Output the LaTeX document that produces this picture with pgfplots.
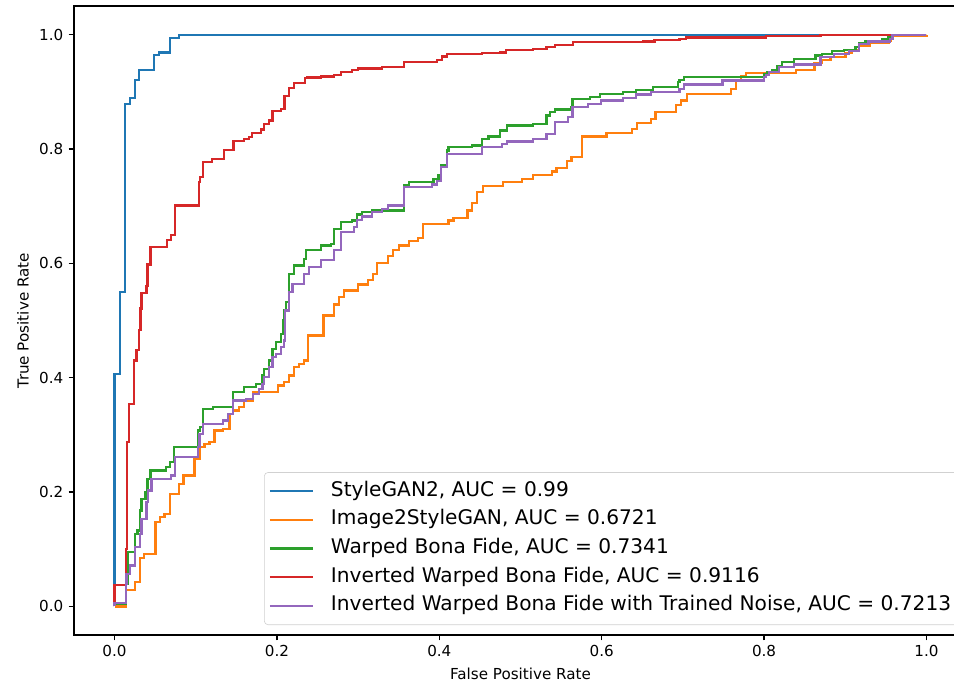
\documentclass[border=0pt]{standalone}
\usepackage{fontspec}
\setmainfont{DejaVu Sans}
\usepackage{pgfplots}
\pgfplotsset{compat=1.18}

\definecolor{tabblue}{HTML}{1F77B4}
\definecolor{taborange}{HTML}{FF7F0E}
\definecolor{tabgreen}{HTML}{2CA02C}
\definecolor{tabred}{HTML}{D62728}
\definecolor{tabpurple}{HTML}{9467BD}

\begin{document}
\begin{tikzpicture}
\begin{axis}[
    scale only axis,
    width=589.4pt, height=415.1pt,
    xmin=-0.05, xmax=1.05, ymin=-0.05, ymax=1.05,
    xtick={0,0.2,0.4,0.6,0.8,1}, ytick={0,0.2,0.4,0.6,0.8,1},
    tick align=outside, major tick length=3.5pt,
    tick style={black, line width=0.8pt},
    axis line style={line width=0.8pt},
    xtick pos=bottom, ytick pos=left,
    /pgf/number format/assume math mode=true,
    xticklabel style={/pgf/number format/.cd, fixed, fixed zerofill, precision=1},
    yticklabel style={/pgf/number format/.cd, fixed, fixed zerofill, precision=1},
    ticklabel style={font=\fontsize{10}{12}\selectfont},
    label style={font=\fontsize{10}{12}\selectfont},
    xlabel={False Positive Rate}, ylabel={True Positive Rate},
    every axis plot/.append style={line width=1.5pt, const plot},
    legend image code/.code={\draw[#1] (0pt,0pt) -- (28.5pt,0pt);},
    legend cell align=left,
    legend style={at={(rel axis cs:1,0)}, anchor=south east, xshift=-5.3pt, yshift=6.6pt,
        draw=black!18, rounded corners=2.5pt, fill=white,
        font=\fontsize{13.3}{16}\selectfont, row sep=0pt,
        inner xsep=3pt, inner ysep=3pt,
        nodes={text height=9.5pt, text depth=3pt, inner ysep=3.2pt},
        /tikz/every odd column/.append style={column sep=9pt}},
]
\addplot[tabblue] coordinates {(0,0) (0,0.407) (0.0065,0.550) (0.0126,0.879) (0.0188,0.889) (0.025,0.921) (0.0303,0.938) (0.049,0.965) (0.055,0.969) (0.068,0.9935) (0.0794,1) (1,1)};
\addlegendentry{StyleGAN2, AUC = 0.99}
\addplot[taborange] coordinates {(0,0) (0.0139,0.0292) (0.0249,0.0425) (0.031,0.0851) (0.0364,0.0921) (0.0503,0.1474) (0.0556,0.1561) (0.0617,0.1621) (0.0679,0.197) (0.0794,0.2145) (0.085,0.229) (0.0985,0.2582) (0.1047,0.2785) (0.1108,0.2844) (0.1169,0.2872) (0.1231,0.3077) (0.1334,0.3107) (0.1415,0.3369) (0.1456,0.3427) (0.1537,0.3484) (0.1599,0.3601) (0.1702,0.3747) (0.2009,0.3864) (0.209,0.3921) (0.2151,0.4038) (0.2212,0.4184) (0.2274,0.4243) (0.2335,0.4301) (0.2384,0.4738) (0.2573,0.5087) (0.2703,0.528) (0.2764,0.5407) (0.2826,0.5524) (0.3002,0.5629) (0.3125,0.5712) (0.3187,0.5816) (0.3236,0.6009) (0.3366,0.6124) (0.3427,0.6236) (0.3501,0.6311) (0.3623,0.6386) (0.3739,0.6439) (0.3795,0.669) (0.4114,0.6748) (0.4175,0.6795) (0.4347,0.6923) (0.4401,0.7051) (0.4463,0.7243) (0.4536,0.7348) (0.4782,0.7418) (0.5022,0.7477) (0.515,0.7547) (0.539,0.7605) (0.5444,0.7663) (0.5574,0.7785) (0.5628,0.7855) (0.5758,0.8217) (0.6058,0.8275) (0.6377,0.8351) (0.6433,0.8449) (0.661,0.8526) (0.6663,0.8642) (0.6917,0.8771) (0.6978,0.8846) (0.7049,0.8963) (0.7591,0.9051) (0.7653,0.9184) (0.7714,0.9266) (0.7776,0.9323) (0.8389,0.9383) (0.8622,0.9498) (0.8715,0.9558) (0.8818,0.9603) (0.9002,0.9673) (0.9083,0.9733) (0.9166,0.9808) (0.9309,0.9855) (0.9534,0.9895) (0.9567,0.9983) (1,1)};
\addlegendentry{Image2StyleGAN, AUC = 0.6721}
\addplot[tabgreen] coordinates {(0,0) (0,0.005) (0.0139,0.04) (0.016,0.095) (0.0249,0.1271) (0.0282,0.1329) (0.031,0.1678) (0.0331,0.1883) (0.038,0.1998) (0.0405,0.2233) (0.0442,0.2378) (0.0638,0.2435) (0.0679,0.2523) (0.0733,0.2785) (0.1027,0.3077) (0.1055,0.3135) (0.1088,0.3456) (0.1211,0.3484) (0.1456,0.3747) (0.1599,0.3834) (0.1742,0.3893) (0.1812,0.4038) (0.1844,0.4155) (0.1906,0.4301) (0.1947,0.4505) (0.1988,0.4621) (0.2049,0.4767) (0.2077,0.5) (0.209,0.5175) (0.211,0.532) (0.2151,0.5816) (0.2212,0.5962) (0.2335,0.6079) (0.2356,0.6236) (0.254,0.6311) (0.2663,0.6341) (0.2703,0.6603) (0.2785,0.6719) (0.2929,0.6748) (0.299,0.6853) (0.3052,0.6893) (0.3174,0.6923) (0.3562,0.736) (0.3623,0.7418) (0.393,0.7477) (0.3991,0.7547) (0.4021,0.771) (0.4094,0.7972) (0.4114,0.803) (0.4401,0.806) (0.4524,0.8176) (0.4605,0.8217) (0.4748,0.8322) (0.4831,0.8409) (0.5157,0.8439) (0.5321,0.8584) (0.5362,0.8642) (0.5423,0.8689) (0.5628,0.8729) (0.564,0.8876) (0.5853,0.8904) (0.5975,0.8963) (0.6261,0.9003) (0.6426,0.9038) (0.6629,0.9079) (0.6936,0.9166) (0.6957,0.9208) (0.7018,0.9253) (0.8,0.9301) (0.804,0.9341) (0.8102,0.9388) (0.8163,0.9458) (0.8225,0.9516) (0.8368,0.9575) (0.8634,0.9633) (0.8715,0.9662) (0.8838,0.9708) (0.8982,0.9733) (0.9125,0.9778) (0.9166,0.9848) (0.9248,0.9895) (0.9451,0.9925) (0.9534,0.9953) (0.9567,1) (1,1)};
\addlegendentry{Warped Bona Fide, AUC = 0.7341}
\addplot[tabred] coordinates {(0,0) (0,0.037) (0.014,0.10) (0.0156,0.287) (0.018,0.354) (0.0242,0.430) (0.027,0.448) (0.0303,0.483) (0.0319,0.521) (0.0331,0.548) (0.0393,0.561) (0.0405,0.598) (0.0442,0.628) (0.0647,0.641) (0.0699,0.650) (0.0748,0.701) (0.1039,0.742) (0.1055,0.7505) (0.1088,0.777) (0.1202,0.7827) (0.1346,0.798) (0.1464,0.8135) (0.1599,0.8177) (0.1656,0.8205) (0.1693,0.828) (0.1804,0.834) (0.1837,0.844) (0.1898,0.850) (0.1947,0.866) (0.2049,0.870) (0.2094,0.893) (0.2151,0.907) (0.2212,0.916) (0.2347,0.924) (0.2368,0.925) (0.254,0.927) (0.2703,0.930) (0.2785,0.935) (0.2929,0.938) (0.3002,0.941) (0.3297,0.943) (0.3562,0.952) (0.3972,0.956) (0.4033,0.962) (0.4094,0.966) (0.4524,0.968) (0.4748,0.969) (0.4822,0.973) (0.5157,0.975) (0.5321,0.979) (0.5423,0.982) (0.5648,0.987) (0.6507,0.988) (0.665,0.991) (0.6957,0.993) (0.7039,0.995) (0.802,0.998) (0.8696,1) (1,1)};
\addlegendentry{Inverted Warped Bona Fide, AUC = 0.9116}
\addplot[tabpurple] coordinates {(0,0) (0,0.006) (0.0139,0.0397) (0.0147,0.0572) (0.0188,0.0717) (0.0249,0.1037) (0.031,0.1271) (0.0331,0.1533) (0.0393,0.1823) (0.0413,0.2028) (0.0454,0.2233) (0.0699,0.229) (0.0748,0.261) (0.1027,0.2785) (0.1047,0.3019) (0.1088,0.3194) (0.1334,0.3252) (0.1395,0.3369) (0.1456,0.3601) (0.162,0.3631) (0.1702,0.3719) (0.1783,0.3806) (0.1824,0.3893) (0.1844,0.4009) (0.1906,0.4184) (0.1947,0.4358) (0.1988,0.4418) (0.2049,0.4533) (0.209,0.465) (0.2102,0.5175) (0.2151,0.5495) (0.2193,0.5642) (0.2335,0.5816) (0.2396,0.5932) (0.254,0.6061) (0.2703,0.6236) (0.2785,0.6544) (0.2948,0.6631) (0.299,0.676) (0.3052,0.6818) (0.3174,0.6893) (0.3297,0.6953) (0.3366,0.701) (0.3562,0.733) (0.391,0.7378) (0.3972,0.7435) (0.4021,0.768) (0.4094,0.7914) (0.4524,0.803) (0.4769,0.8089) (0.4831,0.8129) (0.5157,0.8176) (0.5321,0.8264) (0.5423,0.8467) (0.5587,0.8554) (0.564,0.8729) (0.5832,0.8788) (0.5996,0.8846) (0.6261,0.8893) (0.6426,0.8951) (0.661,0.8991) (0.6957,0.905) (0.7018,0.9126) (0.7488,0.9196) (0.8,0.9253) (0.802,0.93) (0.8061,0.9341) (0.8184,0.9428) (0.8368,0.9476) (0.8696,0.9603) (0.8859,0.9662) (0.9043,0.972) (0.9166,0.9837) (0.9288,0.9878) (0.9555,0.9925) (0.9583,1) (1,1)};
\addlegendentry{Inverted Warped Bona Fide with Trained Noise, AUC = 0.7213}
\end{axis}
\pgfresetboundingbox
\path[use as bounding box] ([shift={(-48.8pt,-33.7pt)}]current axis.south west) rectangle ([shift={(-8.6pt,4pt)}]current axis.north east);
\end{tikzpicture}
\end{document}
